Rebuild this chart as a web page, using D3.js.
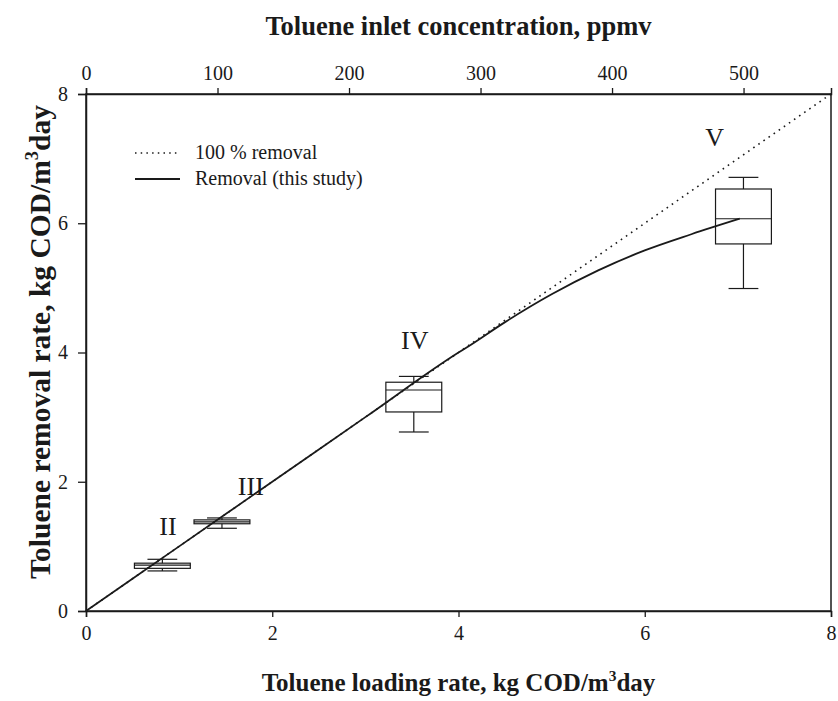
<!DOCTYPE html>
<html>
<head>
<meta charset="utf-8">
<script src="https://cdn.jsdelivr.net/npm/d3@7"></script>
<style>
  html, body { margin: 0; padding: 0; background: #fff; }
  svg { display: block; }
  text { font-family: "Liberation Serif", "Times New Roman", serif; fill: #1a1a1a; }
</style>
</head>
<body>
<svg id="chart" width="838" height="701"></svg>
<script>
// ---- data ----
const loadingTicks = [0, 2, 4, 6, 8];
const removalTicks = [0, 2, 4, 6, 8];
const ppmvTicks = [0, 100, 200, 300, 400, 500];

const phases = ["II", "III", "IV", "V"];
const phaseLoading = [0.82, 1.46, 3.52, 7.06];
const whiskerLow = [0.62, 1.28, 2.77, 4.99];
const quart1 = [0.66, 1.35, 3.08, 5.68];
const medians = [0.71, 1.38, 3.42, 6.07];
const quart3 = [0.74, 1.41, 3.54, 6.53];
const whiskerHigh = [0.80, 1.44, 3.63, 6.71];
const labelLoading = [0.88, 1.77, 3.53, 6.75];
const labelRemoval = [1.31, 1.93, 4.19, 7.32];

const removalCurveX = [0, 1, 2, 3, 4, 4.1, 4.5, 5, 5.5, 6, 6.5, 7.02];
const removalCurveY = [0, 1, 2, 3, 4, 4.09, 4.47, 4.9, 5.27, 5.58, 5.83, 6.07];
const idealX = [0, 8];
const idealY = [0, 8];

const legendLabels = ["100 % removal", "Removal (this study)"];

// ---- layout ----
const svg = d3.select("#chart");
const L = 86, R = 831, T = 94, B = 611;
const x = d3.scaleLinear().domain([0, 8]).range([L, R]);
const xTop = d3.scaleLinear().domain([0, 566.5]).range([L, R]);
const y = d3.scaleLinear().domain([0, 8]).range([B, T]);
const ink = "#1a1a1a";

// frame
svg.append("rect").attr("x", L).attr("y", T).attr("width", R - L).attr("height", B - T)
  .attr("fill", "none").attr("stroke", ink).attr("stroke-width", 1.5);

// axes
const bottomAxis = svg.append("g").attr("transform", `translate(0,${B})`)
  .call(d3.axisBottom(x).tickValues(loadingTicks).tickSize(6).tickPadding(9).tickFormat(d3.format("d")));
const leftAxis = svg.append("g").attr("transform", `translate(${L},0)`)
  .call(d3.axisLeft(y).tickValues(removalTicks).tickSize(8).tickPadding(10).tickFormat(d3.format("d")));
const topAxis = svg.append("g").attr("transform", `translate(0,${T})`)
  .call(d3.axisTop(xTop).tickValues(ppmvTicks).tickSize(6).tickPadding(8).tickFormat(d3.format("d")));
[bottomAxis, leftAxis, topAxis].forEach(g => {
  g.select(".domain").attr("stroke", ink).attr("stroke-width", 1.5);
  g.selectAll(".tick line").attr("stroke", ink).attr("stroke-width", 1.3);
  g.selectAll(".tick text").attr("font-size", 20).attr("fill", ink)
    .style("font-family", "'Liberation Serif', serif");
});

// 100% removal dotted line
const line = d3.line().x(d => x(d[0])).y(d => y(d[1]));
svg.append("path").datum(d3.zip(idealX, idealY)).attr("d", line)
  .attr("fill", "none").attr("stroke", ink).attr("stroke-width", 1.6)
  .attr("stroke-dasharray", "1.6,4.6");

// boxes
const boxW = 0.6, capW = 0.32;
phases.forEach((p, i) => {
  const g = svg.append("g").attr("stroke", ink).attr("stroke-width", 1.2).attr("fill", "none");
  const cx = phaseLoading[i];
  g.append("line").attr("x1", x(cx)).attr("x2", x(cx)).attr("y1", y(whiskerLow[i])).attr("y2", y(quart1[i]));
  g.append("line").attr("x1", x(cx)).attr("x2", x(cx)).attr("y1", y(quart3[i])).attr("y2", y(whiskerHigh[i]));
  g.append("line").attr("x1", x(cx - capW / 2)).attr("x2", x(cx + capW / 2)).attr("y1", y(whiskerLow[i])).attr("y2", y(whiskerLow[i]));
  g.append("line").attr("x1", x(cx - capW / 2)).attr("x2", x(cx + capW / 2)).attr("y1", y(whiskerHigh[i])).attr("y2", y(whiskerHigh[i]));
  g.append("rect").attr("x", x(cx - boxW / 2)).attr("width", x(cx + boxW / 2) - x(cx - boxW / 2))
    .attr("y", y(quart3[i])).attr("height", y(quart1[i]) - y(quart3[i]));
  g.append("line").attr("x1", x(cx - boxW / 2)).attr("x2", x(cx + boxW / 2)).attr("y1", y(medians[i])).attr("y2", y(medians[i]));
  svg.append("text").attr("x", x(labelLoading[i])).attr("y", y(labelRemoval[i]))
    .attr("text-anchor", "middle").attr("dominant-baseline", "central")
    .attr("font-size", 26).text(p);
});

// removal curve
svg.append("path").datum(d3.zip(removalCurveX, removalCurveY))
  .attr("d", d3.line().x(d => x(d[0])).y(d => y(d[1])).curve(d3.curveMonotoneX))
  .attr("fill", "none").attr("stroke", ink).attr("stroke-width", 1.8);

// legend
const lg = svg.append("g");
lg.append("line").attr("x1", 135).attr("x2", 180).attr("y1", 153).attr("y2", 153)
  .attr("stroke", ink).attr("stroke-width", 1.5).attr("stroke-dasharray", "1.5,4.2");
lg.append("line").attr("x1", 135).attr("x2", 180).attr("y1", 179).attr("y2", 179)
  .attr("stroke", ink).attr("stroke-width", 1.8);
lg.append("text").attr("x", 195).attr("y", 159).attr("font-size", 20).text(legendLabels[0]);
lg.append("text").attr("x", 195).attr("y", 185).attr("font-size", 20).text(legendLabels[1]);

// axis titles
function title(sel, size, main, tail) {
  sel.attr("font-weight", "bold").attr("font-size", size).attr("text-anchor", "middle");
  sel.append("tspan").text(main);
  if (tail) {
    sel.append("tspan").attr("font-size", size * 0.62).attr("dy", -size * 0.42).text("3");
    sel.append("tspan").attr("dy", size * 0.42).text(tail);
  }
}
title(svg.append("text").attr("x", (L + R) / 2).attr("y", 691), 25, "Toluene loading rate, kg COD/m", "day");
title(svg.append("text").attr("x", (L + R) / 2).attr("y", 35), 26.5, "Toluene inlet concentration, ppmv");
title(svg.append("text").attr("transform", `translate(50,342) rotate(-90)`), 29.5, "Toluene removal rate, kg COD/m", "day");
</script>
</body>
</html>
